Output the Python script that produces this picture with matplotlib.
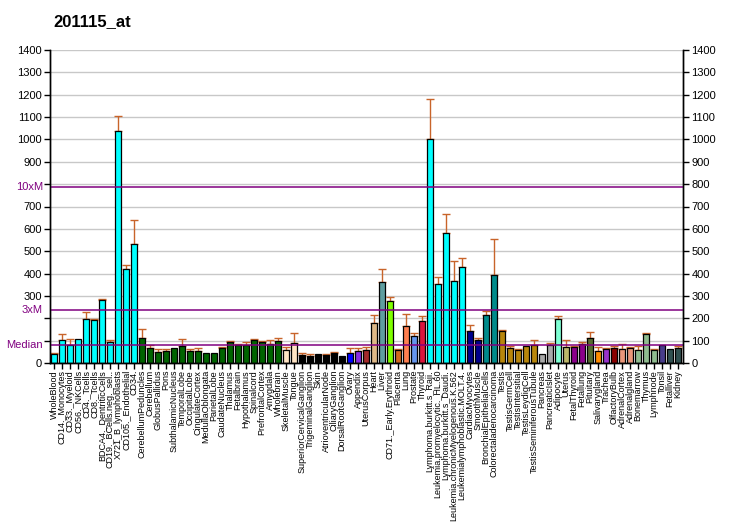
import matplotlib
matplotlib.use("Agg")
import matplotlib.pyplot as plt
import matplotlib.transforms as mtransforms

plt.rcParams['font.family'] = ['Liberation Sans', 'DejaVu Sans']

title = "201115_at"

labels = ["WholeBlood", "CD14._Monocytes", "CD33._Myeloid", "CD56._NKCells", "CD4._Tcells",
          "CD8._Tcells", "BDCA4._DentriticCells", "CD19._BCells.neg._sel..", "X721_B_lymphoblasts",
          "CD105._Endothelial", "CD34.", "CerebellumPeduncles", "Cerebellum", "GlobusPallidus",
          "Pons", "SubthalamicNucleus", "TemporalLobe", "OccipitalLobe", "CingulateCortex",
          "MedullaOblongata", "ParietalLobe", "CaudateNucleus", "Thalamus", "Fetalbrain",
          "Hypothalamus", "Spinalcord", "PrefrontalCortex", "Amygdala", "Wholebrain",
          "SkeletalMuscle", "Tongue", "SuperiorCervicalGanglion", "TrigeminalGanglion", "Skin",
          "AtrioventricularNode", "CiliaryGanglion", "DorsalRootGanglion", "Ovary", "Appendix",
          "UterusCorpus", "Heart", "Liver", "CD71._Early.Erythroid", "Placenta", "Lung", "Prostate",
          "Thyroid", "Lymphoma.burkitt.s_Raji.", "Leukemia.promyelocytic._HL.60",
          "Lymphoma.burkitt.s_Daudi.", "Leukemia.chronicMyelogenous.K.562",
          "Leukemialymphoblastic.MOLT.4.", "CardiacMyocytes", "SmoothMuscle",
          "BronchialEpithelialCells", "Colorectaladenocarcinoma", "Testis", "TestisGermCell",
          "TestisIntersitial", "TestisLeydigCell", "TestisSeminiferousTubule", "Pancreas",
          "PancreaticIslet", "Adipocyte", "Uterus", "FetalThyroid", "Fetallung", "Pituitary",
          "Salivarygland", "Trachea", "OlfactoryBulb", "AdrenalCortex", "Adrenalgland",
          "Bonemarrow", "Thymus", "Lymphnode", "Tonsil", "Fetalliver", "Kidney"]

values = [42, 104, 80, 109, 198, 194, 283, 95, 1039, 422, 534,
          113, 69, 51, 55, 69, 78, 55, 55, 46, 46, 69, 95, 79, 79, 104, 95, 86, 100,
          60, 91, 37, 33, 42, 37, 46, 33, 46, 55, 60, 180, 364, 279, 60, 167, 122, 189,
          1003, 355, 583, 368, 431, 145, 104, 216, 395, 145, 69, 60, 78, 82, 40, 82, 198,
          73, 73, 86, 113, 55, 64, 69, 64, 69, 60, 131, 60, 82, 64, 69]

errors = [3, 26, 29, 0, 32, 4, 2, 9, 67, 18, 107,
          39, 10, 13, 9, 0, 31, 9, 14, 0, 0, 4, 5, 5, 16, 4, 5, 18, 13,
          13, 45, 9, 9, 0, 5, 5, 0, 23, 14, 13, 35, 58, 18, 4, 54, 14, 23,
          178, 31, 85, 90, 40, 26, 9, 18, 161, 4, 9, 4, 0, 22, 0, 9, 14,
          31, 5, 9, 27, 18, 5, 9, 22, 4, 18, 5, 4, 0, 0, 9]

colors = (["#00FFFF"] * 11 + ["#006400"] * 18 + ["#FFE4C4"] * 2 + ["#000000"] * 6 +
          ["#0000FF", "#8A2BE2", "#A52A2A", "#DEB887", "#5F9EA0", "#7FFF00", "#D2691E",
           "#FF7F50", "#6495ED", "#DC143C"] + ["#00FFFF"] * 5 + ["#00008B"] * 2 +
          ["#008B8B"] * 2 + ["#B8860B"] * 5 + ["#A9A9A9"] * 2 +
          ["#7FFFD4", "#BDB76B", "#8B008B", "#8B008B", "#556B2F", "#FF8C00", "#9932CC",
           "#8B0000", "#E9967A", "#E9967A", "#8FBC8F", "#8FBC8F", "#8FBC8F", "#483D8B",
           "#2F4F4F", "#2F4F4F"])

median = 78.6
markers = [(median * 10, "10xM"), (median * 3, "3xM"), (median, "Median")]

fig = plt.figure(figsize=(7.32, 5.30), dpi=100)
W, H = 732, 530
ax = fig.add_axes([50 / W, 1 - 363 / H, 633 / W, 313 / H])

x = list(range(len(values)))
ax.set_ylim(0, 1400)
ax.set_xlim(-0.5, len(values) - 0.4)

for yv in range(100, 1401, 100):
    ax.axhline(yv, color="#C8C8C8", lw=1, zorder=0)

ax.bar(x, values, width=0.75, color=colors, edgecolor="black", linewidth=0.9, zorder=2)
for xi, v, e in zip(x, values, errors):
    if e > 0:
        ax.errorbar(xi, v, yerr=[[0], [e]], fmt="none", ecolor="#C8642A",
                    elinewidth=1, capsize=3, capthick=1, zorder=1.5)

for val, lab in markers:
    ax.axhline(val, color="#800080", lw=1.1, zorder=3)
    ax.annotate(lab, xy=(0, val), xycoords=("axes fraction", "data"),
                xytext=(-7, 0), textcoords="offset pixels", ha="right", va="center",
                color="#800080", fontsize=8)

ticks = list(range(0, 1401, 100))
ax.set_yticks(ticks)
ax.set_yticklabels(["" if t in (100, 200, 800) else str(t) for t in ticks], fontsize=8)
ax.tick_params(axis="y", direction="out", length=4, width=1, pad=2)

ax2 = ax.twinx()
ax2.set_ylim(0, 1400)
ax2.set_yticks(ticks)
ax2.set_yticklabels([str(t) for t in ticks], fontsize=8)
ax2.tick_params(axis="y", direction="out", length=4, width=1, pad=2)

ax.set_xticks(x)
ax.set_xticklabels(labels, rotation=90, fontsize=6.5)
ax.tick_params(axis="x", direction="out", length=4, width=1, pad=1)

for a in (ax, ax2):
    a.spines["top"].set_visible(False)
    a.spines["left"].set_linewidth(1)
    a.spines["right"].set_linewidth(1)
    a.spines["bottom"].set_linewidth(1)

fig.text(53 / W, 1 - 22 / H, title, fontsize=12, fontweight="bold", ha="left", va="center")

fig.savefig("out.png", dpi=100)
